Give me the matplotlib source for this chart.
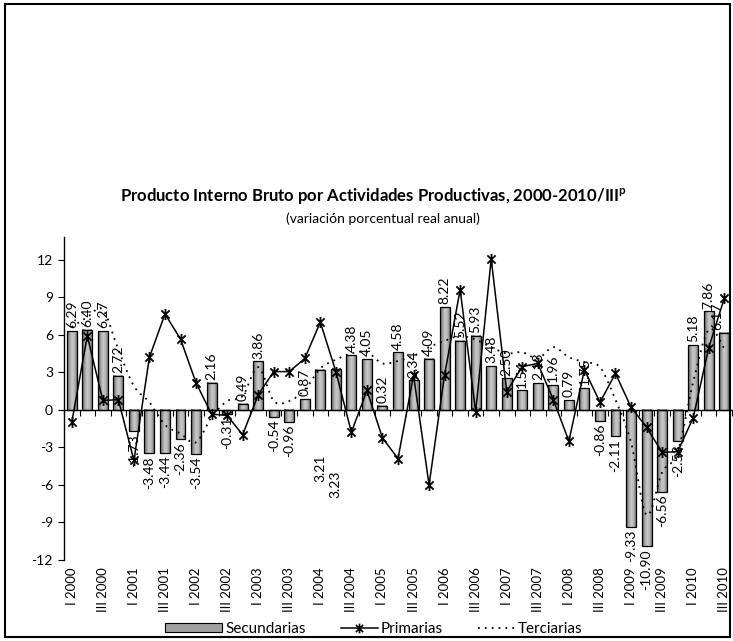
import numpy as np
import matplotlib
matplotlib.use("Agg")
import matplotlib.pyplot as plt
from matplotlib.path import Path
from matplotlib.patches import PathPatch, Rectangle, Patch
from matplotlib.lines import Line2D
from matplotlib.colors import LinearSegmentedColormap
from matplotlib.transforms import blended_transform_factory
from matplotlib.legend_handler import HandlerPatch

plt.rcParams['font.family'] = ['Lato', 'DejaVu Sans']
plt.rcParams['axes.unicode_minus'] = False
plt.rcParams['mathtext.fontset'] = 'custom'
plt.rcParams['mathtext.rm'] = 'Lato'
plt.rcParams['mathtext.bf'] = 'Lato:bold'

# ---------------- data ----------------
years = list(range(2000, 2011))
quarters = ["I", "II", "III", "IV"]
categories = [f"{q} {y}" for y in years for q in quarters][:43]
tick_labels = categories[::2]

secundarias = [6.29, 6.40, 6.27, 2.72, -1.73, -3.48, -3.44, -2.36, -3.54, 2.16,
               -0.31, 0.49, 3.86, -0.54, -0.96, 0.87, 3.21, 3.23, 4.38, 4.05,
               0.32, 4.58, 2.34, 4.09, 8.22, 5.52, 5.93, 3.48, 2.50, 1.54,
               2.13, 1.96, 0.79, 1.75, -0.86, -2.11, -9.33, -10.90, -6.56, -2.53,
               5.18, 7.86, 6.17]

primarias = [-1.0, 5.9, 0.75, 0.8, -4.05, 4.2, 7.65, 5.65, 2.15, -0.35,
             -0.45, -2.0, 1.2, 3.05, 3.05, 4.1, 7.0, 3.05, -1.8, 1.55,
             -2.25, -3.9, 2.75, -6.0, 2.8, 9.6, -0.15, 12.05, 1.45, 3.45,
             3.7, 0.8, -2.5, 3.2, 0.6, 2.9, 0.2, -1.4, -3.4, -3.35,
             -0.65, 4.95, 8.9]

terciarias = [6.6, 7.4, 8.0, 4.8, 1.9, 0.6, -1.2, -1.9, -2.6, -0.6,
              0.7, 1.1, 3.4, 0.7, 0.7, 1.6, 3.3, 4.0, 4.5, 4.6,
              3.7, 3.9, 4.3, 5.0, 5.5, 5.9, 5.6, 5.0, 4.5, 4.6,
              4.1, 5.0, 4.2, 3.8, 3.4, 0.8, -2.6, -8.4, -5.0, -3.4,
              2.2, 6.4, 4.9]

# ---------------- figure ----------------
W, H = 733, 641
fig = plt.figure(figsize=(W / 100, H / 100), dpi=100)
ax = fig.add_axes([64 / W, 1 - 560 / H, (732 - 64) / W, (560 - 237) / H])

x = np.arange(len(categories))

# gradient bars
bw = 0.64
cmap = LinearSegmentedColormap.from_list(
    'bargrad', ['#5c5c5c', '#9a9a9a', '#cacaca', '#b9b9b9', '#777777'])
grad = np.linspace(0, 1, 64).reshape(1, -1)
for xi, v in zip(x, secundarias):
    ax.imshow(grad, extent=(xi - bw / 2, xi + bw / 2, 0, v), aspect='auto',
              cmap=cmap, interpolation='bilinear', zorder=2)
ax.bar(x, secundarias, width=bw, facecolor='none', edgecolor='black',
       linewidth=0.9, zorder=3)

# Primarias line with star markers
star = Path([(-1, -1), (1, 1), (-1, 1), (1, -1), (0, -1.35), (0, 1.35)],
            [Path.MOVETO, Path.LINETO, Path.MOVETO, Path.LINETO,
             Path.MOVETO, Path.LINETO])
ax.plot(x, primarias, color='black', lw=1.1, marker=star, markersize=8,
        markeredgewidth=1.3, zorder=5)

# Terciarias smoothed dotted line (Catmull-Rom -> Bezier)
P = np.column_stack([x, terciarias]).astype(float)
n = len(P)
verts = [P[0]]
codes = [Path.MOVETO]
for i in range(n - 1):
    p0 = P[i - 1] if i > 0 else P[i]
    p1 = P[i]
    p2 = P[i + 1]
    p3 = P[i + 2] if i + 2 < n else P[i + 1]
    c1 = p1 + (p2 - p0) / 6.0
    c2 = p2 - (p3 - p1) / 6.0
    verts += [c1, c2, p2]
    codes += [Path.CURVE4] * 3
dot_style = (0, (1.0, 2.8))
ax.add_patch(PathPatch(Path(verts, codes), fill=False, edgecolor='black',
                       lw=1.3, linestyle=dot_style, zorder=4))

# data labels
special_top = {16: -3.55, 17: -4.9}
special_dx = {42: -0.45}
LFS = 10
for xi, v in zip(x, secundarias):
    txt = f"{v:.2f}"
    if xi in special_top:
        ax.text(xi, special_top[xi], txt, rotation=90, ha='center', va='top',
                fontsize=LFS, zorder=6)
        continue
    dx = special_dx.get(xi, 0)
    if v >= 0:
        ax.annotate(txt, (xi + dx, v), xytext=(0, 2), textcoords='offset points',
                    rotation=90, ha='center', va='bottom', fontsize=LFS, zorder=6)
    else:
        ax.annotate(txt, (xi + dx, v), xytext=(0, -2), textcoords='offset points',
                    rotation=90, ha='center', va='top', fontsize=LFS, zorder=6)

# axes styling
ax.set_xlim(-0.5, len(categories) - 0.5)
ax.set_ylim(-12, 13.8)
ax.spines['top'].set_visible(False)
ax.spines['right'].set_visible(False)
ax.spines['bottom'].set_position(('data', 0))
ax.spines['bottom'].set_linewidth(1.0)
ax.spines['left'].set_linewidth(1.0)
ax.set_xticks(np.arange(-0.5, len(categories), 1))
ax.tick_params(axis='x', length=4, direction='out', labelbottom=False, width=0.8)
ax.set_yticks(range(-12, 13, 3))
ax.tick_params(axis='y', length=4, direction='out', labelsize=10, pad=4, width=0.8)

trans = blended_transform_factory(ax.transData, ax.transAxes)
for lbl, xi in zip(tick_labels, x[::2]):
    ax.text(xi, -0.022, lbl, rotation=90, ha='center', va='top',
            transform=trans, fontsize=9.5)

# titles
fig.text(373.5 / W, 1 - 197 / H,
         "Producto Interno Bruto por Actividades Productivas, 2000-2010/III$^{\\mathbf{p}}$",
         ha='center', va='center', fontsize=12, fontweight='bold')
fig.text(383 / W, 1 - 219 / H, "(variación porcentual real anual)",
         ha='center', va='center', fontsize=10)


# legend
class WidePatchHandler(HandlerPatch):
    def create_artists(self, legend, orig_handle, xdescent, ydescent, width,
                       height, fontsize, trans):
        extra = 0.55 * width
        p = Rectangle((-xdescent - extra, -ydescent + 0.05 * height),
                      width + extra, 0.9 * height,
                      facecolor=orig_handle.get_facecolor(),
                      edgecolor=orig_handle.get_edgecolor(),
                      linewidth=orig_handle.get_linewidth())
        p.set_transform(trans)
        return [p]


handles = [Patch(facecolor='#a0a0a0', edgecolor='black', linewidth=0.8, label='Secundarias'),
           Line2D([], [], color='black', lw=1.1, marker=star, markersize=7,
                  markeredgewidth=1.2, label='Primarias'),
           Line2D([], [], color='black', lw=1.3, linestyle=dot_style,
                  label='Terciarias')]
fig.legend(handles=handles, loc='center', bbox_to_anchor=(384 / W, 1 - 629 / H),
           ncol=3, frameon=False, fontsize=11, handlelength=2.4,
           columnspacing=2.3, handletextpad=0.2,
           handler_map={Patch: WidePatchHandler()})

# outer frame
fig.add_artist(Rectangle((5 / W, 4 / H), (730 - 5) / W, (637 - 4) / H,
                         transform=fig.transFigure, fill=False,
                         edgecolor='black', lw=1.5))

fig.savefig("out.png", dpi=100)
